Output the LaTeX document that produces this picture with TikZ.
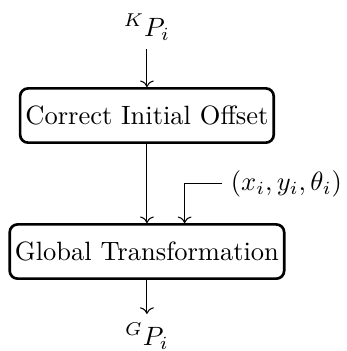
\documentclass[tikz,border=0pt]{standalone}
\usepackage{tikz}
\usetikzlibrary{positioning, arrows.meta}

\begin{document}
\begin{tikzpicture}[
        node distance=0.5cm and 0.5cm,
        >=To,
        procbox/.style={
            rectangle,
            rounded corners=3pt,
            draw=black,
            line width=1pt,
            fill=white,
            align=center,
            inner xsep=2pt,
            minimum height=0.72cm
        },
        flow/.style={->, thin}
    ]
    \useasboundingbox (-1.95,1.533) rectangle (2.654,-3.125);

    % Processing steps
    \node[procbox] (corr) at (0,0) {Correct Initial Offset};
    \node[procbox, below=1.05cm of corr] (glob) {Global Transformation};

    % Input and output points
    \node[above=0.5cm of corr] (kp) {$^{K}P_i$};
    \node[below=0.45cm of glob] (gp) {$^{G}P_i$};

    % Pose input
    \coordinate (bend) at ([xshift=0.5cm, yshift=0.52cm]glob.north);
    \node[right=0.49cm of bend] (pose) {$(x_i, y_i, \theta_i)$};

    \draw[flow] (kp) -- (corr);
    \draw[flow] (corr) -- (glob);
    \draw[flow] (glob) -- (gp);
    \draw[flow] (pose.west) -- (bend) -- (bend |- glob.north);

\end{tikzpicture}
\end{document}
